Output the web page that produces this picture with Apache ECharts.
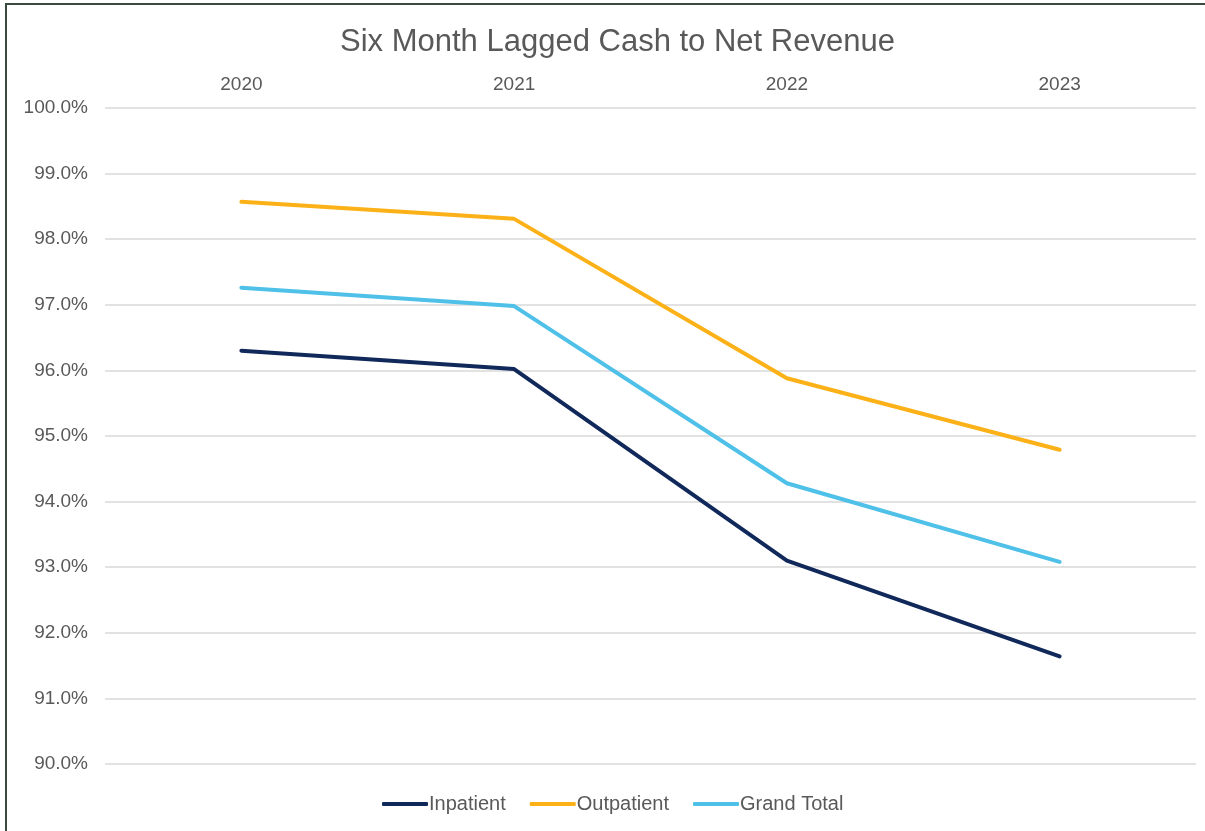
<!DOCTYPE html>
<html>
<head>
<meta charset="utf-8">
<script src="https://cdn.jsdelivr.net/npm/echarts@6/dist/echarts.min.js"></script>
<style>
  html, body { margin: 0; padding: 0; background: #fff; }
  #chart { width: 1205px; height: 831px; }
  /* frame seen at the top and left edge of the screenshot */
  #frame { position: absolute; left: 5px; top: 3px; width: 1200px; height: 828px;
           border-top: 2px solid #3a4a3c; border-left: 2px solid #3a4a3c; pointer-events: none; }
</style>
</head>
<body>
<div id="chart"></div>
<div id="frame"></div>
<script>
  const years = ['2020', '2021', '2022', '2023'];
  const inpatient = [96.30, 96.02, 93.10, 91.64];
  const outpatient = [98.57, 98.31, 95.88, 94.79];
  const grandTotal = [97.26, 96.98, 94.28, 93.08];

  const yMin = 90, yMax = 100, yStep = 1;

  const textColor = '#595959';
  const font = 'Liberation Sans, Arial, sans-serif';

  const chartInstance = echarts.init(document.getElementById('chart'));

  const option = {
    animation: false,
    title: {
      text: 'Six Month Lagged Cash to Net Revenue',
      left: 335,
      top: 22,
      textStyle: { fontFamily: font, fontSize: 31, fontWeight: 'normal', color: textColor }
    },
    legend: {
      bottom: 12,
      left: 377,
      itemWidth: 46,
      itemHeight: 4,
      itemGap: 24,
      icon: 'roundRect',
      textStyle: { fontFamily: font, fontSize: 20, color: textColor, padding: [0, 0, 0, -4] },
      data: ['Inpatient', 'Outpatient', 'Grand Total']
    },
    grid: { left: 105, right: 9, top: 108, bottom: 67 },
    xAxis: {
      type: 'category',
      position: 'top',
      data: years,
      boundaryGap: true,
      axisLine: { show: false },
      axisTick: { show: false },
      axisLabel: { fontFamily: font, fontSize: 19, color: textColor, margin: 14 }
    },
    yAxis: {
      type: 'value',
      min: yMin,
      max: yMax,
      interval: yStep,
      axisLine: { show: false },
      axisTick: { show: false },
      axisLabel: {
        fontFamily: font, fontSize: 19, color: textColor, margin: 17,
        formatter: v => v.toFixed(1) + '%'
      },
      splitLine: { lineStyle: { color: '#d9d9d9', width: 1.5 } }
    },
    series: [
      {
        name: 'Inpatient', type: 'line', data: inpatient,
        symbol: 'none', color: '#10295a',
        lineStyle: { width: 4, cap: 'round', join: 'round' }
      },
      {
        name: 'Outpatient', type: 'line', data: outpatient,
        symbol: 'none', color: '#fbb117',
        lineStyle: { width: 4, cap: 'round', join: 'round' }
      },
      {
        name: 'Grand Total', type: 'line', data: grandTotal,
        symbol: 'none', color: '#4fc0e8',
        lineStyle: { width: 4, cap: 'round', join: 'round' }
      }
    ]
  };

  chartInstance.setOption(option);
</script>
</body>
</html>
